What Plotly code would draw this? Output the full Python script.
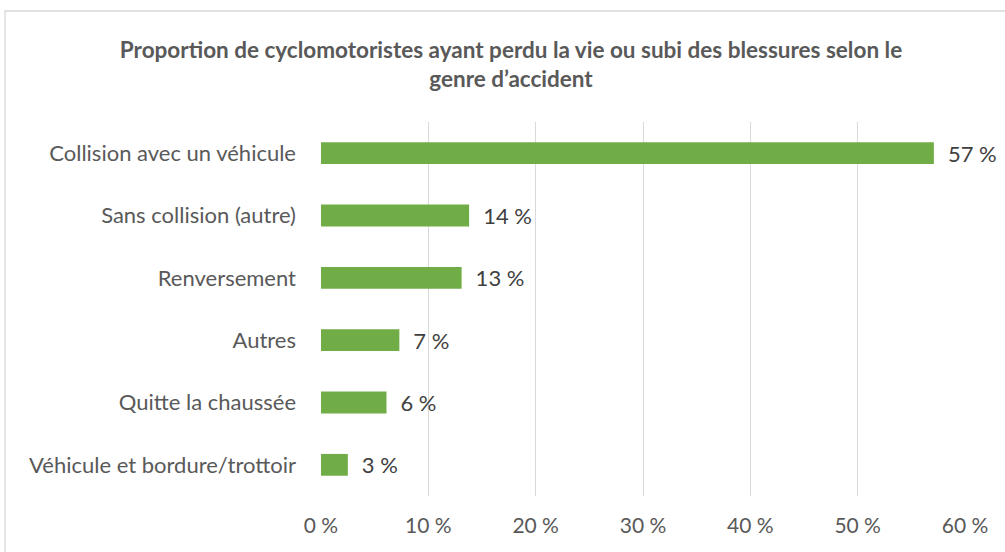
import plotly.graph_objects as go

categories = [
    "Collision avec un véhicule",
    "Sans collision (autre)",
    "Renversement",
    "Autres",
    "Quitte la chaussée",
    "Véhicule et bordure/trottoir",
]
values = [57.1, 13.8, 13.1, 7.3, 6.1, 2.5]
labels = ["57 %", "14 %", "13 %", "7 %", "6 %", "3 %"]
tick_vals = [0, 10, 20, 30, 40, 50, 60]
tick_text = ["0 %", "10 %", "20 %", "30 %", "40 %", "50 %", "60 %"]

FONT = "Lato"
W, H = 1005, 552
L, R, T, B = 321, 40, 122, 56
pw = W - L - R
ph = H - T - B

fig = go.Figure()
fig.add_trace(go.Bar(
    y=categories,
    x=values,
    orientation="h",
    marker=dict(color="#70AD47", line=dict(width=0)),
    text=["\u2002" + t for t in labels],
    textposition="outside",
    constraintext="none",
    cliponaxis=False,
    textfont=dict(family=FONT, size=22, color="#404040"),
    hoverinfo="skip",
))

fig.update_layout(
    width=W, height=H,
    margin=dict(l=L, r=R, t=T, b=B, autoexpand=False),
    paper_bgcolor="white",
    plot_bgcolor="white",
    bargap=0.65,
    showlegend=False,
    title=dict(
        text="<b>Proportion de cyclomotoristes ayant perdu la vie ou subi des blessures selon le<br>genre d’accident</b>",
        x=511 / W, xanchor="center",
        y=1 - 57.5 / H, yanchor="middle",
        font=dict(family=FONT, size=22.5, color="#595959"),
    ),
    xaxis=dict(
        range=[0, 60],
        tickvals=tick_vals,
        ticktext=tick_text,
        showgrid=True,
        gridcolor="#D9D9D9",
        gridwidth=1.3,
        zeroline=False,
        showline=False,
        ticks="",
        ticklabelstandoff=15,
        tickfont=dict(family=FONT, size=21, color="#595959"),
        fixedrange=True,
    ),
    yaxis=dict(
        autorange="reversed",
        showgrid=False,
        zeroline=False,
        showline=False,
        ticks="",
        ticklabelstandoff=24,
        tickfont=dict(family=FONT, size=22, color="#595959"),
        fixedrange=True,
    ),
    shapes=[dict(
        type="rect", xref="paper", yref="paper", layer="below",
        x0=(5 - L) / pw, x1=(W + 20 - L) / pw,
        y0=(T + ph - (H + 20)) / ph, y1=(T + ph - 11) / ph,
        line=dict(color="#D9D9D9", width=1.3),
        fillcolor="rgba(0,0,0,0)",
    )],
)

fig.write_html(
    "out.html",
    config={"displayModeBar": False},
    post_script="document.body.style.margin='0';",
)
